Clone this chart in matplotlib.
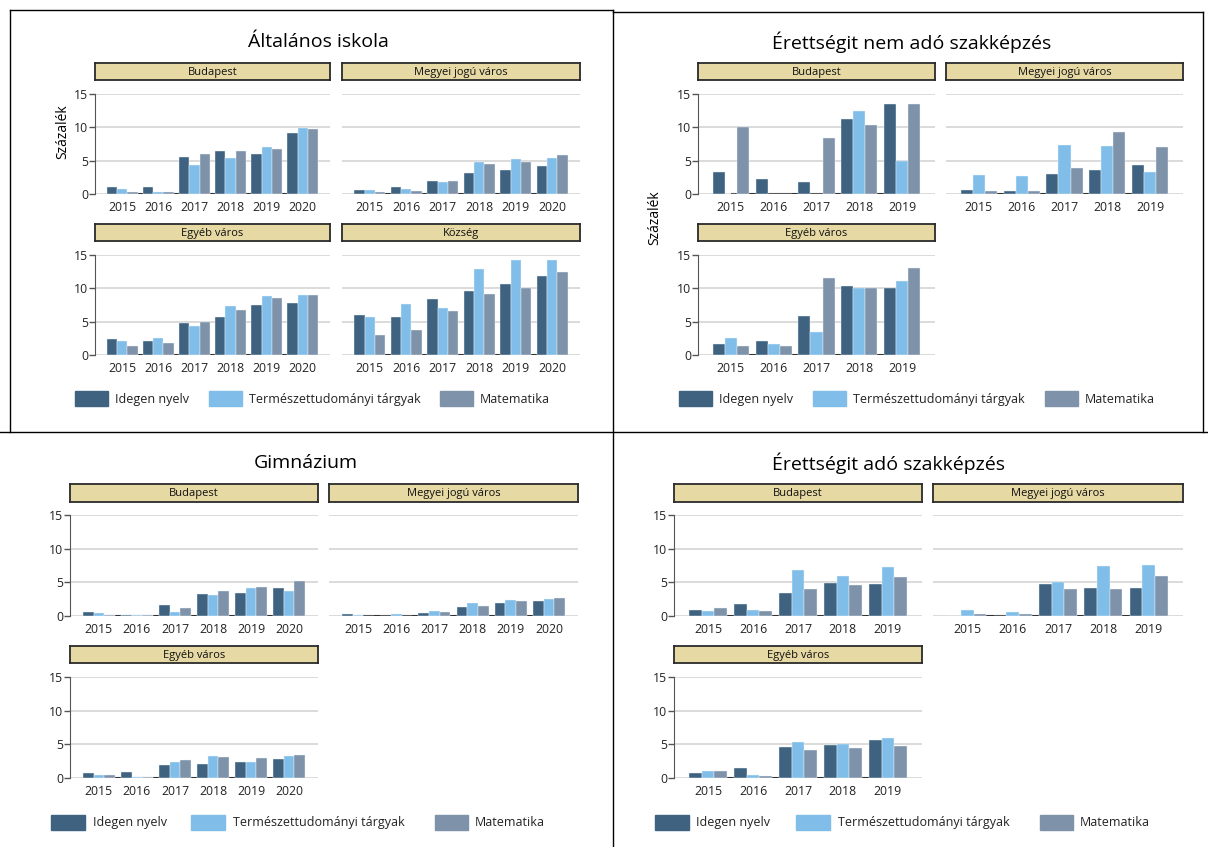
import matplotlib
matplotlib.use('Agg')
import matplotlib.pyplot as plt
from matplotlib.patches import Rectangle
from matplotlib.lines import Line2D
import numpy as np

plt.rcParams['font.family'] = ['Open Sans', 'DejaVu Sans']

W, H = 1208, 847

years6 = ['2015', '2016', '2017', '2018', '2019', '2020']
years5 = ['2015', '2016', '2017', '2018', '2019']
series = ['Idegen nyelv', 'Természettudományi tárgyak', 'Matematika']
colors = ['#3e627f', '#80bee9', '#7e92a9']

# Általános iskola  (idegen nyelv, természettudomány, matematika)
alt_budapest = [[1.0, 1.0, 5.5, 6.5, 6.0, 9.1],
                [0.8, 0.35, 4.35, 5.45, 7.0, 9.85],
                [0.35, 0.35, 6.0, 6.4, 6.7, 9.7]]
alt_megyei = [[0.55, 1.0, 2.0, 3.2, 3.65, 4.15],
              [0.6, 0.7, 1.85, 4.8, 5.25, 5.45],
              [0.35, 0.5, 2.0, 4.5, 4.8, 5.9]]
alt_egyeb = [[2.45, 2.15, 4.85, 5.7, 7.5, 7.8],
             [2.15, 2.6, 4.4, 7.35, 8.85, 9.0],
             [1.3, 1.75, 5.0, 6.75, 8.55, 9.0]]
alt_kozseg = [[6.05, 5.7, 8.4, 9.6, 10.6, 11.8],
              [5.7, 7.65, 7.05, 12.85, 14.3, 14.3],
              [3.05, 3.8, 6.6, 9.15, 10.0, 12.4]]

# Érettségit nem adó szakképzés
enem_budapest = [[3.3, 2.3, 1.85, 11.2, 13.55],
                 [0.0, 0.0, 0.0, 12.5, 5.0],
                 [10.0, 0.0, 8.35, 10.3, 13.55]]
enem_megyei = [[0.55, 0.5, 3.0, 3.6, 4.35],
               [2.85, 2.7, 7.3, 7.2, 3.35],
               [0.5, 0.5, 3.9, 9.25, 7.0]]
enem_egyeb = [[1.6, 2.15, 5.85, 10.3, 10.0],
              [2.6, 1.6, 3.5, 10.0, 11.05],
              [1.3, 1.3, 11.5, 10.0, 13.1]]

# Gimnázium
gim_budapest = [[0.6, 0.1, 1.6, 3.2, 3.35, 4.1],
                [0.45, 0.1, 0.55, 3.05, 4.1, 3.65],
                [0.1, 0.1, 1.15, 3.65, 4.25, 5.15]]
gim_megyei = [[0.25, 0.0, 0.4, 1.3, 1.9, 2.2],
              [0.15, 0.25, 0.7, 1.9, 2.35, 2.5],
              [0.05, 0.05, 0.55, 1.45, 2.25, 2.65]]
gim_egyeb = [[0.8, 0.95, 2.0, 2.15, 2.45, 2.8],
             [0.5, 0.2, 2.45, 3.2, 2.45, 3.2],
             [0.5, 0.2, 2.65, 3.05, 2.9, 3.35]]

# Érettségit adó szakképzés
eado_budapest = [[0.9, 1.8, 3.4, 4.9, 4.75],
                 [0.75, 0.9, 6.85, 5.95, 7.3],
                 [1.2, 0.75, 4.0, 4.6, 5.8]]
eado_megyei = [[0.05, 0.0, 4.75, 4.15, 4.15],
               [0.9, 0.6, 5.05, 7.45, 7.6],
               [0.3, 0.3, 4.05, 4.05, 5.95]]
eado_egyeb = [[0.7, 1.5, 4.6, 4.9, 5.6],
              [1.0, 0.45, 5.3, 5.0, 5.9],
              [1.0, 0.3, 4.1, 4.4, 4.7]]

fig = plt.figure(figsize=(W / 100, H / 100), dpi=100)


def rect(x0, y0, x1, y1):
    return [x0 / W, 1 - y1 / H, (x1 - x0) / W, (y1 - y0) / H]


def panel(cols, rows, col, row, years, data, label):
    x0, x1 = cols[col]
    (sy0, sy1), (py0, py1) = rows[row]
    # strip
    sax = fig.add_axes(rect(x0, sy0, x1, sy1))
    sax.set_facecolor('#e6d9a4')
    sax.set_xticks([])
    sax.set_yticks([])
    for s in sax.spines.values():
        s.set_color('#2a2a2a')
        s.set_linewidth(1.3)
    sax.text(0.5, 0.45, label, ha='center', va='center', fontsize=8, color='#111')

    ax = fig.add_axes(rect(x0, py0, x1, py1))
    n = len(years)
    x = np.arange(n)
    bw = 0.28
    for k in range(3):
        ax.bar(x + (k - 1) * bw, data[k], width=bw, color=colors[k],
               edgecolor='#eef3f7', linewidth=0.3, zorder=2)
    ax.plot([0, n - 1], [0, 0], color='#333333', lw=1.5, zorder=1.5,
            solid_capstyle='butt')
    ax.set_xlim(-0.76, n - 0.24)
    ax.set_ylim(0, 15)
    ax.set_yticks([0, 5, 10, 15])
    ax.yaxis.grid(True, color='#d4d4d4', lw=1.2)
    ax.set_axisbelow(True)
    ax.set_xticks(x)
    ax.set_xticklabels(years, fontsize=8.8)
    ax.tick_params(axis='x', length=0, pad=5, colors='#222')
    for s in ['top', 'right', 'bottom']:
        ax.spines[s].set_visible(False)
    if col == 0:
        ax.spines['left'].set_color('#555555')
        ax.tick_params(axis='y', length=4, width=1, color='#555555',
                       labelsize=8.8, pad=1, labelcolor='#222')
    else:
        ax.spines['left'].set_visible(False)
        ax.tick_params(axis='y', length=0, labelleft=False)
    ax.set_facecolor('none')
    return ax


def legend(y, patch_x, text_x):
    for k in range(3):
        px0, px1 = patch_x[k]
        fig.patches.append(Rectangle((px0 / W, 1 - (y + 7.5) / H),
                                     (px1 - px0) / W, 15 / H,
                                     transform=fig.transFigure,
                                     color=colors[k]))
        fig.text(text_x[k] / W, 1 - y / H, series[k], ha='left',
                 va='center', fontsize=9, color='#222')


def line(x0, y0, x1, y1):
    fig.add_artist(Line2D([x0 / W, x1 / W], [1 - y0 / H, 1 - y1 / H],
                          transform=fig.transFigure, color='black', lw=1))


top_rows = [((63, 80), (94, 194)), ((224, 241), (255, 355))]
bot_rows = [((484, 502), (515, 616)), ((646, 663), (677, 778))]

# Általános iskola
cols = [(95, 330), (342, 580)]
fig.text(318 / W, 1 - 42 / H, 'Általános iskola', ha='center', va='center', fontsize=14)
panel(cols, top_rows, 0, 0, years6, alt_budapest, 'Budapest')
panel(cols, top_rows, 1, 0, years6, alt_megyei, 'Megyei jogú város')
panel(cols, top_rows, 0, 1, years6, alt_egyeb, 'Egyéb város')
panel(cols, top_rows, 1, 1, years6, alt_kozseg, 'Község')
fig.text(63 / W, 1 - 132 / H, 'Százalék', rotation=90, ha='center', va='center', fontsize=10)
legend(399, [(75, 108), (209, 242), (440, 473)], [115, 249, 480])

# Érettségit nem adó szakképzés
cols = [(698, 935), (946, 1183)]
fig.text(912 / W, 1 - 42 / H, 'Érettségit nem adó szakképzés', ha='center', va='center', fontsize=14)
panel(cols, top_rows, 0, 0, years5, enem_budapest, 'Budapest')
panel(cols, top_rows, 1, 0, years5, enem_megyei, 'Megyei jogú város')
panel(cols, top_rows, 0, 1, years5, enem_egyeb, 'Egyéb város')
fig.text(655 / W, 1 - 218 / H, 'Százalék', rotation=90, ha='center', va='center', fontsize=10)
legend(399, [(679, 712), (813, 846), (1045, 1078)], [719, 853, 1085])

# Gimnázium
cols = [(70, 318), (329, 578)]
fig.text(306 / W, 1 - 463 / H, 'Gimnázium', ha='center', va='center', fontsize=14)
panel(cols, bot_rows, 0, 0, years6, gim_budapest, 'Budapest')
panel(cols, bot_rows, 1, 0, years6, gim_megyei, 'Megyei jogú város')
panel(cols, bot_rows, 0, 1, years6, gim_egyeb, 'Egyéb város')
legend(822, [(51, 85), (191, 225), (435, 468)], [93, 233, 475])

# Érettségit adó szakképzés
cols = [(674, 922), (933, 1183)]
fig.text(888 / W, 1 - 463 / H, 'Érettségit adó szakképzés', ha='center', va='center', fontsize=14)
panel(cols, bot_rows, 0, 0, years5, eado_budapest, 'Budapest')
panel(cols, bot_rows, 1, 0, years5, eado_megyei, 'Megyei jogú város')
panel(cols, bot_rows, 0, 1, years5, eado_egyeb, 'Egyéb város')
legend(822, [(655, 689), (796, 830), (1040, 1073)], [696, 838, 1080])

# quadrant borders
line(10, 10, 613, 10)
line(10, 10, 10, 432)
line(613, 12, 1203, 12)
line(1203, 12, 1203, 432)
line(0, 432, 1208, 432)
line(613, 10, 613, 847)

fig.savefig('out.png', dpi=100)
